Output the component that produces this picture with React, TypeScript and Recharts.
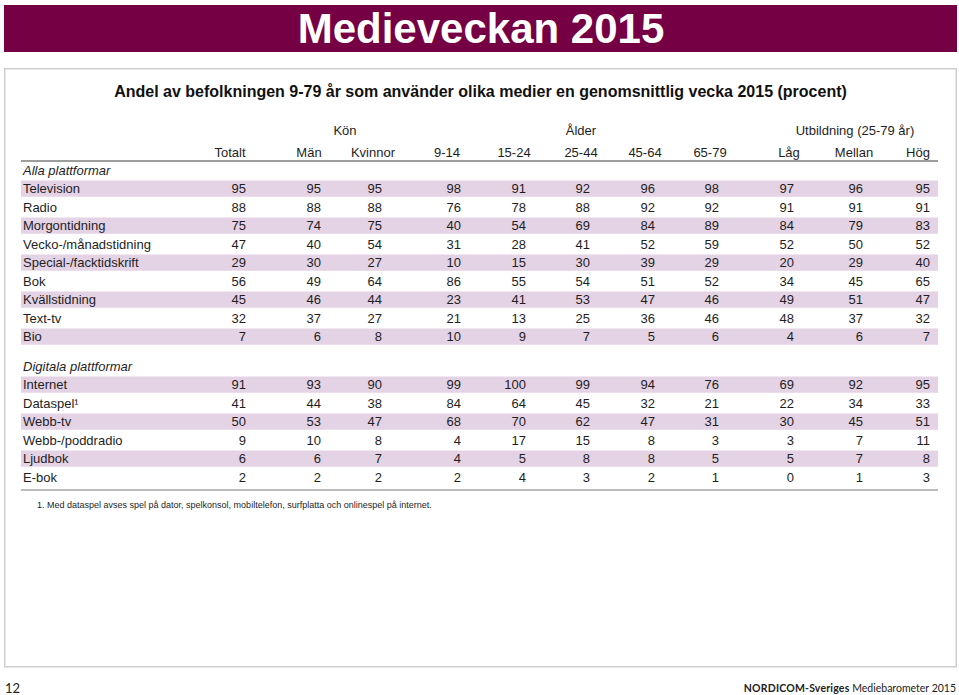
import React from "react";
import {
  ReferenceArea,
  ReferenceLine,
  Scatter,
  ScatterChart,
  XAxis,
  YAxis,
} from "recharts";

// --- table content -------------------------------------------------------

const COLUMNS = ["Totalt", "Män", "Kvinnor", "9-14", "15-24", "25-44", "45-64", "65-79", "Låg", "Mellan", "Hög"];
const GROUPS = ["Kön", "Ålder", "Utbildning (25-79 år)"];

const ALLA_TITLE = "Alla plattformar";
const ALLA_ROWS = [
  "Television",
  "Radio",
  "Morgontidning",
  "Vecko-/månadstidning",
  "Special-/facktidskrift",
  "Bok",
  "Kvällstidning",
  "Text-tv",
  "Bio",
];

const DIGITALA_TITLE = "Digitala plattformar";
const DIGITALA_ROWS = ["Internet", "Dataspel¹", "Webb-tv", "Webb-/poddradio", "Ljudbok", "E-bok"];

const television = [95, 95, 95, 98, 91, 92, 96, 98, 97, 96, 95];
const radio = [88, 88, 88, 76, 78, 88, 92, 92, 91, 91, 91];
const morgontidning = [75, 74, 75, 40, 54, 69, 84, 89, 84, 79, 83];
const veckotidning = [47, 40, 54, 31, 28, 41, 52, 59, 52, 50, 52];
const facktidskrift = [29, 30, 27, 10, 15, 30, 39, 29, 20, 29, 40];
const bok = [56, 49, 64, 86, 55, 54, 51, 52, 34, 45, 65];
const kvallstidning = [45, 46, 44, 23, 41, 53, 47, 46, 49, 51, 47];
const texttv = [32, 37, 27, 21, 13, 25, 36, 46, 48, 37, 32];
const bio = [7, 6, 8, 10, 9, 7, 5, 6, 4, 6, 7];

const internet = [91, 93, 90, 99, 100, 99, 94, 76, 69, 92, 95];
const dataspel = [41, 44, 38, 84, 64, 45, 32, 21, 22, 34, 33];
const webbtv = [50, 53, 47, 68, 70, 62, 47, 31, 30, 45, 51];
const poddradio = [9, 10, 8, 4, 17, 15, 8, 3, 3, 7, 11];
const ljudbok = [6, 6, 7, 4, 5, 8, 8, 5, 5, 7, 8];
const ebok = [2, 2, 2, 2, 4, 3, 2, 1, 0, 1, 3];

const ALLA_VALUES = [television, radio, morgontidning, veckotidning, facktidskrift, bok, kvallstidning, texttv, bio];
const DIGITALA_VALUES = [internet, dataspel, webbtv, poddradio, ljudbok, ebok];

const FOOTNOTE = "1. Med dataspel avses spel på dator, spelkonsol, mobiltelefon, surfplatta och onlinespel på internet.";

// --- layout ---------------------------------------------------------------

const W = 959;
const H = 695;
const PLOT_LEFT = 21;
const PLOT_RIGHT = 938;
const PLOT_TOP = 161;
const PLOT_BOTTOM = 490;
const AXIS_H = 22;
// right edge of the number columns, and centres of the headings
const COL_X = [246, 321, 382, 461, 526, 590, 655, 719, 794, 863, 930];
const HEAD_CX = [230, 309, 373, 447, 514, 581, 645, 710, 789, 854, 918];
const GROUP_CX = [345, 581, 855];
const LABEL_X = 23;
const Y_DOMAIN: [number, number] = [-0.5, 17.3];
const DIGITALA_START = 10.6; // extra gap before the second block

const FONT = "'Liberation Sans', Arial, Helvetica, sans-serif";
const TEXT = "#1e1e1e";
const STRIPE = "#E4D2E5";
const BRAND = "#760044";

type Row = { label: string; slot: number; values?: number[]; section?: boolean; striped?: boolean };

const rows: Row[] = [];
function addBlock(title: string, labels: string[], values: number[][], start: number) {
  rows.push({ label: title, slot: start, section: true });
  labels.forEach((label, i) =>
    rows.push({ label, slot: start + 1 + i, values: values[i], striped: i % 2 === 0 })
  );
}
addBlock(ALLA_TITLE, ALLA_ROWS, ALLA_VALUES, 0);
addBlock(DIGITALA_TITLE, DIGITALA_ROWS, DIGITALA_VALUES, DIGITALA_START);

const cells = rows
  .filter((r) => r.values)
  .flatMap((r) => r.values!.map((v, c) => ({ x: COL_X[c], y: r.slot, text: String(v) })));

const labels = rows.map((r) => ({ x: LABEL_X, y: r.slot, text: r.label, section: !!r.section }));

// invisible anchors so the group-heading axis has a series of its own
const groupAnchors = GROUP_CX.map((x) => ({ x, y: Y_DOMAIN[0] }));

const ColTick = (props: any) => {
  const i = HEAD_CX.indexOf(props.payload.value);
  return (
    <text x={props.x} y={props.y} dy={4} textAnchor="middle" fontFamily={FONT} fontSize={13} fill={TEXT}>
      {COLUMNS[i]}
    </text>
  );
};

const GroupTick = (props: any) => {
  const i = GROUP_CX.indexOf(props.payload.value);
  return (
    <text x={props.x} y={props.y} dy={4} textAnchor="middle" fontFamily={FONT} fontSize={13} fill={TEXT}>
      {GROUPS[i]}
    </text>
  );
};

const CellText = (p: any) => (
  <text x={p.cx} y={p.cy} dy="0.36em" textAnchor="end" fontFamily={FONT} fontSize={13} fill={TEXT}>
    {p.payload.text}
  </text>
);

const LabelText = (p: any) => (
  <text
    x={p.cx}
    y={p.cy}
    dy="0.36em"
    textAnchor="start"
    fontFamily={FONT}
    fontSize={13}
    fontStyle={p.payload.section ? "italic" : "normal"}
    fill={TEXT}
  >
    {p.payload.text}
  </text>
);

const Nothing = () => <g />;

export default function App() {
  return (
    <div style={{ position: "relative", width: W, height: H, background: "#fff", fontFamily: FONT }}>
      <style>{"body{margin:0}"}</style>
      <svg width={W} height={H} style={{ position: "absolute", left: 0, top: 0 }}>
        <rect x={4} y={5} width={953} height={47} fill={BRAND} />
        <text x={481} y={43} textAnchor="middle" fontFamily={FONT} fontWeight="bold" fontSize={42} fill="#fff">
          Medieveckan 2015
        </text>
        <rect x={4.75} y={68.75} width={951.5} height={598} fill="#fff" stroke="#cfcfcf" strokeWidth={1.5} />
        <text x={480.5} y={97} textAnchor="middle" fontFamily={FONT} fontWeight="bold" fontSize={16} fill="#111">
          Andel av befolkningen 9-79 år som använder olika medier en genomsnittlig vecka 2015 (procent)
        </text>
        <text x={37} y={508} fontFamily={FONT} fontSize={9} fill={TEXT}>
          {FOOTNOTE}
        </text>
        <text x={5} y={693} fontFamily="Lato, sans-serif" fontSize={13} fill="#222">
          12
        </text>
        <text x={956} y={692} textAnchor="end" fontFamily="Lato, sans-serif" fontSize={10.5} fill="#222">
          <tspan fontWeight="bold" letterSpacing={0.2}>NORDICOM-Sveriges</tspan>
          <tspan> Mediebarometer 2015</tspan>
        </text>
      </svg>
      <div style={{ position: "absolute", left: 0, top: 0 }}>
        <ScatterChart
          width={W}
          height={H}
          margin={{
            top: PLOT_TOP - 2 * AXIS_H,
            right: W - PLOT_RIGHT,
            bottom: H - PLOT_BOTTOM,
            left: PLOT_LEFT,
          }}
        >
          <XAxis
            xAxisId="cols"
            type="number"
            dataKey="x"
            orientation="top"
            domain={[PLOT_LEFT, PLOT_RIGHT]}
            ticks={HEAD_CX}
            interval={0}
            height={AXIS_H}
            axisLine={false}
            tickLine={false}
            tick={<ColTick />}
          />
          <XAxis
            xAxisId="groups"
            type="number"
            dataKey="x"
            orientation="top"
            domain={[PLOT_LEFT, PLOT_RIGHT]}
            ticks={GROUP_CX}
            interval={0}
            height={AXIS_H}
            axisLine={false}
            tickLine={false}
            tick={<GroupTick />}
          />
          <YAxis type="number" dataKey="y" domain={Y_DOMAIN} reversed hide />
          {rows
            .filter((r) => r.striped)
            .map((r) => (
              <ReferenceArea
                key={r.label}
                xAxisId="cols"
                x1={PLOT_LEFT}
                x2={PLOT_RIGHT}
                y1={r.slot - 0.44}
                y2={r.slot + 0.44}
                fill={STRIPE}
                fillOpacity={1}
                stroke="none"
              />
            ))}
          <ReferenceLine xAxisId="cols" y={Y_DOMAIN[0]} stroke="#9d9d9d" strokeWidth={2} />
          <ReferenceLine xAxisId="cols" y={Y_DOMAIN[1]} stroke="#a5a5a5" strokeWidth={1.5} />
          <Scatter xAxisId="groups" data={groupAnchors} shape={<Nothing />} isAnimationActive={false} />
          <Scatter xAxisId="cols" data={labels} shape={<LabelText />} isAnimationActive={false} />
          <Scatter xAxisId="cols" data={cells} shape={<CellText />} isAnimationActive={false} />
        </ScatterChart>
      </div>
    </div>
  );
}
